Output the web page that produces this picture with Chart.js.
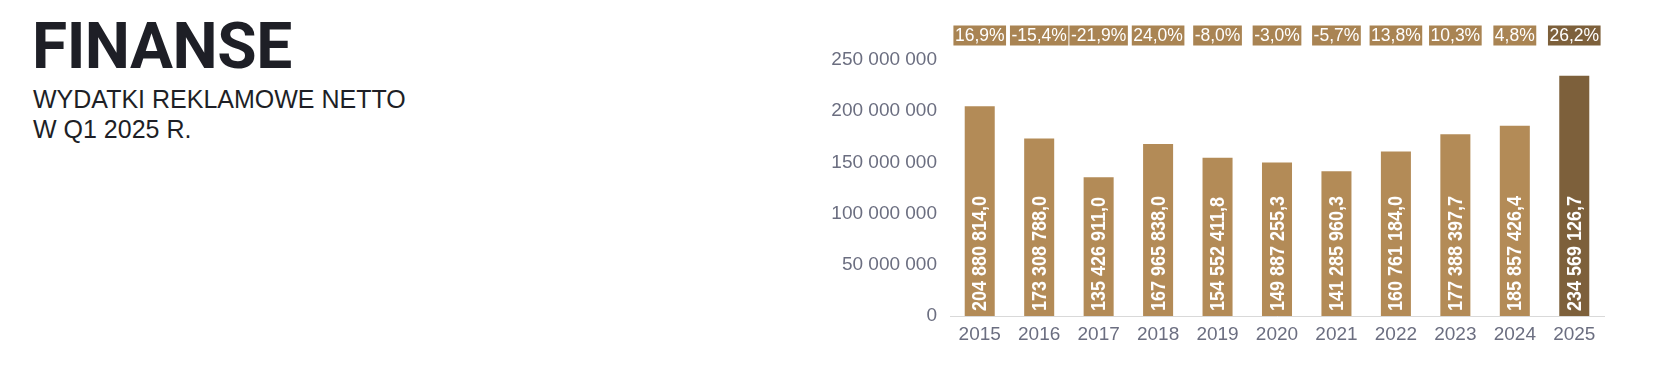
<!DOCTYPE html>
<html>
<head>
<meta charset="utf-8">
<script src="https://cdn.jsdelivr.net/npm/chart.js@4.4.1/dist/chart.umd.min.js"></script>
<style>
    html, body { margin: 0; padding: 0; background: #fff; }
    body { width: 1658px; height: 373px; position: relative; overflow: hidden; }
    .title {
        position: absolute; left: 32px; top: 15px;
        font: 700 64px/64px Roboto, 'Liberation Sans', sans-serif;
        color: #1e1f26; letter-spacing: -0.5px;
    }
    .subtitle {
        position: absolute; left: 33px; top: 84px;
        font: 400 25px/30px 'Liberation Sans', Arial, sans-serif;
        color: #1e1f26;
    }
    .chart-box { position: absolute; left: 790px; top: 0; width: 830px; height: 373px; }
</style>
</head>
<body>
<div class="title">FINANSE</div>
<div class="subtitle">WYDATKI REKLAMOWE NETTO<br>W Q1 2025 R.</div>
<div class="chart-box"><canvas id="financeChart"></canvas></div>

<script>
const years = ['2015', '2016', '2017', '2018', '2019', '2020', '2021', '2022', '2023', '2024', '2025'];
const spend = [204880814.0, 173308788.0, 135426911.0, 167965838.0, 154552411.8, 149887255.3,
               141285960.3, 160761184.0, 177388397.7, 185857426.4, 234569126.7];
const changeLabels = ['16,9%', '-15,4%', '-21,9%', '24,0%', '-8,0%', '-3,0%', '-5,7%', '13,8%', '10,3%', '4,8%', '26,2%'];

const BAR_COLOR = '#b38b57';
const LAST_COLOR = '#7d603b';
const BOX_COLOR = '#a98453';

// polish style number: 204 880 814,0
function formatPl(v, decimals) {
    const fixed = v.toFixed(decimals);
    const [intPart, dec] = fixed.split('.');
    const spaced = intPart.replace(/\B(?=(\d{3})+(?!\d))/g, ' ');
    return dec !== undefined ? spaced + ',' + dec : spaced;
}

const labelsPlugin = {
    id: 'barLabels',
    afterDatasetsDraw(chart) {
        const ctx = chart.ctx;
        const meta = chart.getDatasetMeta(0);
        const area = chart.chartArea;
        ctx.save();
        meta.data.forEach((bar, i) => {
            // value written inside the bar, bottom up
            ctx.save();
            ctx.translate(bar.x, area.bottom - 5);
            ctx.rotate(-Math.PI / 2);
            ctx.scale(0.9, 1);
            ctx.font = "bold 20px 'Liberation Sans', Arial, sans-serif";
            ctx.fillStyle = '#ffffff';
            ctx.textAlign = 'left';
            ctx.textBaseline = 'middle';
            ctx.fillText(formatPl(spend[i], 1), 0, 1);
            ctx.restore();

            // yearly change box above the plot
            ctx.font = "17.5px 'Liberation Sans Narrow', 'Arial Narrow', 'Liberation Sans', sans-serif";
            const txt = changeLabels[i];
            const w = ctx.measureText(txt).width + 3;
            const cy = 35.5;
            ctx.fillStyle = i === years.length - 1 ? LAST_COLOR : BOX_COLOR;
            ctx.fillRect(bar.x - w / 2, cy - 10, w, 20);
            ctx.fillStyle = '#ffffff';
            ctx.textAlign = 'center';
            ctx.textBaseline = 'middle';
            ctx.fillText(txt, bar.x, cy + 1);
        });
        ctx.restore();
    }
};

const ctx = document.getElementById('financeChart').getContext('2d');
new Chart(ctx, {
    type: 'bar',
    data: {
        labels: years,
        datasets: [{
            data: spend,
            backgroundColor: years.map((y, i) => i === years.length - 1 ? LAST_COLOR : BAR_COLOR),
            categoryPercentage: 1,
            barPercentage: 0.505,
        }]
    },
    options: {
        responsive: true,
        maintainAspectRatio: false,
        animation: false,
        layout: { padding: { top: 60, right: 16, bottom: 0, left: 0 } },
        plugins: {
            legend: { display: false },
            tooltip: { enabled: false }
        },
        scales: {
            y: {
                min: 0,
                max: 250000000,
                afterFit: (scale) => { scale.width = 160; },
                grid: { display: false, drawTicks: false, tickLength: 0 },
                border: { display: false },
                ticks: {
                    stepSize: 50000000,
                    padding: 13,
                    color: '#6b6e80',
                    font: { family: "'Liberation Sans', Arial, sans-serif", size: 19 },
                    callback: (v) => formatPl(v, 0)
                }
            },
            x: {
                afterFit: (scale) => { scale.height = 57; },
                grid: { display: false, drawTicks: false, tickLength: 0 },
                border: { display: true, color: '#d9d9d9', width: 1 },
                ticks: {
                    padding: 7,
                    color: '#6b6e80',
                    font: { family: "'Liberation Sans', Arial, sans-serif", size: 19 }
                }
            }
        }
    },
    plugins: [labelsPlugin]
});
</script>
</body>
</html>
